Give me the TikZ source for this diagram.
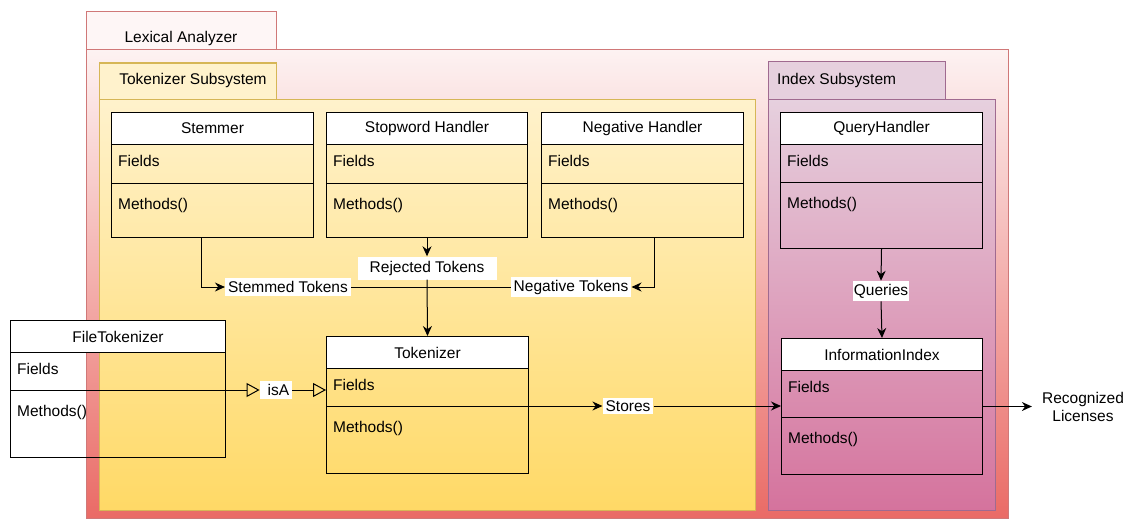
\documentclass[tikz,border=0pt]{standalone}
\usepackage{fontspec}
\setmainfont{Liberation Sans}
\usetikzlibrary{arrows.meta,calc}

\definecolor{lexTop}{HTML}{FDF2F2}
\definecolor{lexBot}{HTML}{EA6B66}
\definecolor{lexLine}{HTML}{D07878}
\definecolor{tokTop}{HTML}{FFF2CC}
\definecolor{tokBot}{HTML}{FFD966}
\definecolor{tokLine}{HTML}{D6B656}
\definecolor{idxTop}{HTML}{E6D0DE}
\definecolor{idxBot}{HTML}{D5739D}
\definecolor{idxLine}{HTML}{A06A90}

\tikzset{
  classbody/.style={draw=black, line width=1pt, inner sep=0pt},
  classhead/.style={draw=black, fill=white, line width=1pt, inner sep=0pt},
  member/.style={anchor=west, inner sep=0pt},
  tag/.style={fill=white, inner xsep=3pt, inner ysep=3pt},
  title/.style={inner sep=0pt},
  flow/.style={line width=1pt, -{Stealth[length=10pt,width=9pt]}},
  isa/.style={line width=1pt, -{Triangle[open,length=13pt,width=14pt]}},
}

% UML class box: name, left x, top y, width, height, divider offset, title
\newcommand{\umlclass}[7]{%
  \node[classbody, anchor=north west, minimum width=#4pt, minimum height=#5pt] (#1) at (#2,#3) {};
  \node[classhead, anchor=north west, minimum width=#4pt, minimum height=32pt] (#1-h) at (#2,#3) {#7};
  \coordinate (#1-dl) at ($(#1.north west)+(0,#6)$);
  \coordinate (#1-dr) at ($(#1.north east)+(0,#6)$);
  \draw[line width=1pt] (#1-dl) -- (#1-dr);
  \node[member] (#1-f) at ($(#1.north west)+(7,49)$) {Fields};
  \node[member] (#1-m) at ($(#1-dl)+(7,22)$) {Methods()};
}

\begin{document}
\begin{tikzpicture}[x=1pt, y=-1pt, font=\fontsize{15.5}{18}\selectfont]
\useasboundingbox (0,0) rectangle (1126,519);

% Lexical Analyzer container
\path[draw=lexLine, line width=1pt, fill=lexTop!70!white] (86,12) rectangle (276,50);
\path[draw=lexLine, line width=1pt, top color=lexTop, bottom color=lexBot] (86,50) rectangle (1008,518);
\node[title] (lex-t) at (181,38) {Lexical Analyzer};

% Tokenizer Subsystem container
\path[draw=tokLine, line width=1pt, fill=tokTop] (99,63) rectangle (276,99);
\path[draw=tokLine, line width=1pt, top color=tokTop, bottom color=tokBot] (99,99) rectangle (755,510);
\node[title] (tok-t) at (193,80) {Tokenizer Subsystem};

% Index Subsystem container
\path[draw=idxLine, line width=1pt, fill=idxTop] (768,62) rectangle (945,99);
\path[draw=idxLine, line width=1pt, top color=idxTop, bottom color=idxBot] (768,99) rectangle (995,510);
\node[title, anchor=west] (idx-t) at (777,80) {Index Subsystem};

% Classes
\umlclass{stem}{111}{112}{202}{125}{71}{Stemmer}
\umlclass{stop}{326}{112}{201}{125}{71}{Stopword Handler}
\umlclass{neg}{541}{112}{202}{125}{71}{Negative Handler}
\umlclass{qh}{780}{112}{202}{136}{70}{QueryHandler}
\umlclass{ii}{781}{338}{201}{136}{79}{InformationIndex}
\umlclass{tok}{326}{336}{202}{137}{70}{Tokenizer}
\umlclass{ft}{10}{320}{215}{137}{70}{FileTokenizer}

% Edge labels
\node[tag] (st) at (288,287) {Stemmed Tokens};
\node[tag, minimum width=139pt, minimum height=23pt] (rej) at (427,268) {Rejected Tokens};
\node[tag] (negt) at (571,287) {Negative Tokens};
\node[tag] (isa) at (276,390) {\hspace{5pt}isA\hspace{5pt}};
\node[tag] (stores) at (628,406) {Stores};
\node[tag, inner xsep=1pt] (q) at (881,291) {Queries};
\node[title, align=center] (rl) at (1083,407) {Recognized\\Licenses};

% Connectors
\draw[flow] ([xshift=-11pt]stem.south) |- (st.west);
\draw[flow] ([xshift=12pt]neg.south) |- (negt.east);
\draw[line width=1pt] (st.east) -- (negt.west);
\draw[flow] (stop.south) -- (rej.north);
\draw[flow] (rej.south) -- (tok.north);
\draw[isa] (ft-dl) -- (isa.west);
\draw[isa] (isa.east) -- (tok.west |- isa.east);
\draw[flow] (tok-dl) -- (stores.west);
\draw[flow] (stores.east) -- (ii.west |- stores.east);
\draw[flow] (qh.south) -- (q.north);
\draw[flow] (q.south) -- (ii.north);
\draw[flow] (ii.east) -- ([xshift=-10pt]rl.west |- ii.east);
\end{tikzpicture}
\end{document}
